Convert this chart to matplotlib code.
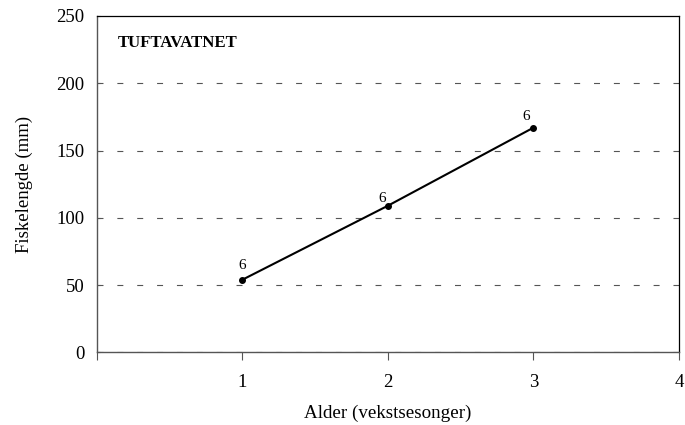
import matplotlib
matplotlib.use("Agg")
import matplotlib.pyplot as plt

# data
ages = [1, 2, 3]
lengths = [54, 109, 167]
counts = [6, 6, 6]
x_ticks = [0, 1, 2, 3, 4]
x_tick_labels = ["", "1", "2", "3", "4"]
y_ticks = [0, 50, 100, 150, 200, 250]

# label offsets (points) for the "n" annotations
label_offsets = [(0, 10), (-4, 5), (-5, 8)]

plt.rcParams["font.family"] = ["Liberation Serif", "DejaVu Serif"]
plt.rcParams["lines.scale_dashes"] = False

fig = plt.figure(figsize=(6.85, 4.25), dpi=100)
ax = fig.add_axes([0.1416, 0.171, 0.8496, 0.7914])

for y in y_ticks[:-1]:
    ax.axhline(y, color="#555555", lw=0.8, linestyle=(0, (4.3, 10)), zorder=1)

ax.plot(ages, lengths, color="black", lw=1.5, marker="o", markersize=4, zorder=3)
for x, y, n, off in zip(ages, lengths, counts, label_offsets):
    ax.annotate(str(n), (x, y), xytext=off, textcoords="offset points",
                ha="center", va="center", fontsize=11)

ax.set_xlim(0, 4)
ax.set_ylim(0, 250)
ax.set_xticks(x_ticks)
ax.set_xticklabels(x_tick_labels)
ax.set_yticks(y_ticks)
ax.tick_params(axis="x", direction="out", length=6, width=0.8, color="#555555",
               pad=9.5, labelsize=13.5)
ax.tick_params(axis="y", direction="in", length=2.5, width=0.8, color="#555555",
               pad=9, labelsize=13.5)

for side in ["left", "bottom"]:
    ax.spines[side].set_color("#555555")
    ax.spines[side].set_linewidth(1.0)
for side in ["top", "right"]:
    ax.spines[side].set_color("black")
    ax.spines[side].set_linewidth(0.9)

ax.text(0.036, 0.92, "TUFTAVATNET", transform=ax.transAxes, fontsize=12.1,
        fontweight="bold", va="center", ha="left")

ax.set_xlabel("Alder (vekstsesonger)", fontsize=13.7, labelpad=10)
ax.set_ylabel("Fiskelengde (mm)", fontsize=13.5, labelpad=17)

fig.savefig("out.png", dpi=100)
